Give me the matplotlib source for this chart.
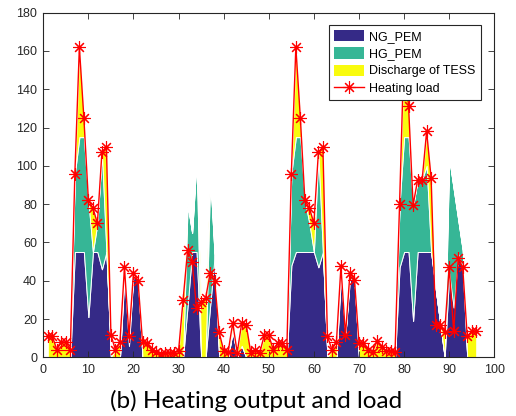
import numpy as np
import matplotlib
matplotlib.use('Agg')
import matplotlib.pyplot as plt
from matplotlib.patches import Patch
from matplotlib.lines import Line2D

# ── Data (hourly, 4 days x 24 h) ───────────────────────────────────────────
hours = list(range(1, 97))

heating_load = [
    11, 11, 4, 8, 8, 4, 96, 162, 125, 82, 78, 70, 107, 110, 11.5, 4, 8, 47, 11, 44, 40, 8, 7.5, 4,
    3, 1.5, 2.5, 2.5, 2.5, 3.5, 30, 56, 50, 25.5, 29, 31, 44, 40, 13, 3.5, 3, 18, 2.5, 18, 17, 2.5, 4, 2.5,
    11.5, 11.5, 4, 7.5, 7.5, 4, 96, 162, 125, 82, 78, 70, 107, 110, 11, 4, 8, 47.5, 11.5, 44, 40.5, 7.5, 7.5, 4,
    3, 8.5, 5.5, 3.5, 3.5, 3, 80, 162, 131, 79.5, 92.5, 92.5, 118, 93.5, 17, 17, 13, 47, 13.5, 52, 47, 11, 13.5, 13.5,
]

ng_pem = [
    0, 0, 0, 0, 0, 0, 55, 55, 55, 21, 55, 55, 46, 55, 0, 0, 0, 43, 6, 44, 40, 0, 0, 0,
    0, 0, 0, 0, 0, 0, 0, 27, 55, 55, 0, 0, 27, 53, 0, 0, 0, 14, 0, 6, 0, 0, 0, 0,
    0, 0, 0, 0, 0, 0, 48, 55, 55, 55, 55, 55, 47, 55, 0, 0, 0, 42, 12, 41, 40, 0, 0, 0,
    0, 0, 0, 0, 0, 0, 47, 55, 55, 19, 55, 55, 55, 55, 36, 18, 0, 44, 26, 54, 47, 0, 0, 0,
]

hg_pem = [
    0, 0, 0, 0, 0, 0, 41, 60, 60, 61, 0, 15, 61, 0, 0, 0, 0, 4, 5, 0, 0, 0, 0, 0,
    0, 0, 0, 0, 0, 0, 0, 53, 10, 49, 0, 0, 68, 0, 0, 0, 0, 0, 0, 0, 0, 0, 0, 0,
    0, 0, 0, 0, 0, 0, 48, 60, 60, 27, 15, 0, 60, 0, 0, 0, 0, 5, 0, 3, 0, 0, 0, 0,
    0, 0, 0, 0, 0, 0, 33, 60, 60, 60, 37.5, 38, 45, 0, 0, 0, 0, 60, 62, 18, 9, 0, 0, 0,
]

tess_discharge = [
    11, 11, 4, 8, 8, 4, 0, 47, 10, 0, 23, 0, 0, 55, 0, 4, 8, 0, 0, 0, 0, 8, 7.5, 4,
    3, 1.5, 2.5, 2.5, 2.5, 3.5, 30, 0, 0, 0, 29, 31, 0, 0, 13, 3.5, 3, 4, 2.5, 12, 17, 2.5, 4, 2.5,
    11.5, 11.5, 4, 7.5, 7.5, 4, 0, 47, 10, 0, 8, 15, 0, 55, 0, 4, 8, 0, 0, 0, 0, 7.5, 7.5, 4,
    3, 8.5, 5.5, 3.5, 3.5, 3, 0, 47, 16, 0, 0, 0, 18, 38.5, 0, 0, 13, 0, 0, 0, 0, 11, 13.5, 13.5,
]

labels = ['NG_PEM', 'HG_PEM', 'Discharge of TESS', 'Heating load']
colors = ['#352a87', '#36b696', '#f9fb0e']

# ── Styling ────────────────────────────────────────────────────────────────
plt.rcParams.update({
    'font.family': 'Liberation Sans', 'font.size': 9,
    'xtick.direction': 'in', 'ytick.direction': 'in',
    'xtick.top': True, 'ytick.right': True,
})

fig = plt.figure(figsize=(5.16, 4.16), dpi=100)
ax = fig.add_axes([0.0839, 0.1411, 0.8740, 0.8284])

ax.stackplot(hours, ng_pem, hg_pem, tess_discharge, colors=colors,
             edgecolor='white', linewidth=0.7)
ax.plot(hours, heating_load, color='red', lw=1.0, marker=(8, 2, 0),
        markersize=9, markeredgewidth=0.8)

ax.set_xlim(0, 100)
ax.set_ylim(0, 180)
ax.set_xticks(np.arange(0, 101, 10))
ax.set_yticks(np.arange(0, 181, 20))
ax.tick_params(length=4, width=0.6, labelsize=9, colors='#262626', pad=4.5)
for s in ax.spines.values():
    s.set_linewidth(0.8)
    s.set_color('#262626')

handles = [Patch(facecolor=colors[0], edgecolor='none'),
           Patch(facecolor=colors[1], edgecolor='none'),
           Patch(facecolor=colors[2], edgecolor='none'),
           Line2D([0], [0], color='red', lw=1.0, marker=(8, 2, 0), markersize=9,
                  markeredgewidth=0.8)]
leg = ax.legend(handles, labels, loc='upper right', bbox_to_anchor=(0.970, 0.964),
                borderaxespad=0, fancybox=False, framealpha=1, edgecolor='#262626',
                fontsize=9, handlelength=2.4, handleheight=1.0, labelspacing=0.35,
                borderpad=0.4, handletextpad=0.4)
leg.get_frame().set_linewidth(0.8)

fig.text(0.497, 0.036, '(b) Heating output and load', ha='center', va='center',
         fontsize=17.5, family='Lato')

fig.savefig('out.png', dpi=100, facecolor='white')
